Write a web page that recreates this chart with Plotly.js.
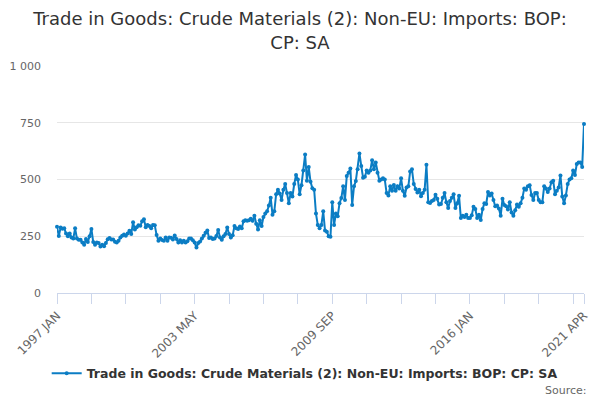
<!DOCTYPE html>
<html>
<head>
<meta charset="utf-8">
<script src="https://cdn.plot.ly/plotly-3.0.1.min.js"></script>
<style>
  html, body { margin: 0; padding: 0; background: #fff; }
  #plot { width: 600px; height: 400px; }
</style>
</head>
<body>
<div id="plot"></div>
<script>
// Monthly values, 1997 JAN .. 2021 APR (GBP million)
var startYear = 1997;
var monthNames = ["JAN", "FEB", "MAR", "APR", "MAY", "JUN", "JUL", "AUG", "SEP", "OCT", "NOV", "DEC"];

var imports = [
  292, 251, 288, 283, 285, 262, 250, 262, 245, 240,
  285, 240, 235, 235, 222, 213, 238, 225, 250, 282,
  225, 213, 222, 220, 205, 213, 206, 220, 237, 242,
  236, 236, 226, 222, 230, 245, 252, 258, 252, 262,
  274, 260, 312, 280, 290, 298, 296, 316, 325, 290,
  300, 295, 285, 300, 298, 255, 230, 240, 234, 230,
  244, 230, 245, 243, 236, 253, 238, 222, 232, 222,
  230, 222, 228, 240, 240, 232, 222, 200, 220, 227,
  240, 252, 265, 275, 242, 245, 238, 240, 251, 278,
  245, 235, 250, 260, 289, 260, 244, 254, 295, 285,
  282, 293, 285, 316, 320, 318, 320, 327, 318, 340,
  305, 280, 320, 295, 335, 350, 360, 385, 420, 345,
  360, 435, 455, 438, 410, 455, 480, 440, 395, 440,
  425, 480, 520, 500, 435, 475, 540, 610, 495, 555,
  490, 462, 455, 350, 300, 285, 300, 360, 275, 270,
  250, 248, 400, 300, 350, 338, 395, 418, 470, 410,
  515, 530, 548, 388, 470, 493, 545, 615, 560, 508,
  512, 540, 530, 540, 585, 545, 575, 530, 495, 500,
  505, 500, 440, 430, 470, 450, 476, 450, 470, 460,
  505, 450, 428, 465, 470, 535, 545, 480, 458, 443,
  455, 426, 440, 455, 565, 400, 397, 405, 410, 433,
  415, 390, 392, 420, 440, 400, 375, 405, 420, 435,
  375, 395, 428, 330, 340, 335, 345, 330, 330, 342,
  380, 370, 330, 345, 322, 370, 395, 392, 445, 430,
  438, 410, 382, 385, 372, 340, 415, 388, 382, 368,
  400, 355, 340, 365, 390, 380, 395, 420, 460, 455,
  470, 475, 432, 410, 440, 440, 410, 400, 400, 470,
  460, 445, 460, 488, 495, 435, 450, 465, 518, 425,
  395, 430, 480, 500, 505, 540, 520, 568, 575, 575,
  555, 745
];

// labelled months and the tick spacing of the category axis
var tickLabels = ["1997 JAN", "2003 MAY", "2009 SEP", "2016 JAN", "2021 APR"];
var minorStep = 19;
var yTicks = [0, 250, 500, 750, 1000];
var yTickText = ["0", "250", "500", "750", "1 000"];

var months = imports.map(function (v, i) {
  return (startYear + Math.floor(i / 12)) + " " + monthNames[i % 12];
});
var idx = imports.map(function (v, i) { return i; });
var tickIdx = tickLabels.map(function (l) { return months.indexOf(l); });
var minorIdx = [];
for (var k = 0; k < months.length; k += minorStep) minorIdx.push(k);

var trace = {
  x: idx,
  y: imports,
  text: months,
  name: "Trade in Goods: Crude Materials (2): Non-EU: Imports: BOP: CP: SA",
  type: "scatter",
  mode: "lines+markers",
  line: { color: "#0b7dc4", width: 2 },
  marker: { color: "#0b7dc4", size: 4 },
  cliponaxis: false,
  hovertemplate: "%{text}: %{y}<extra></extra>"
};

var layout = {
  width: 600,
  height: 400,
  paper_bgcolor: "#fff",
  plot_bgcolor: "#fff",
  font: { family: "DejaVu Sans, sans-serif", color: "#666", size: 11 },
  margin: { l: 57, r: 16, t: 66, b: 107 },
  title: {
    text: "Trade in Goods: Crude Materials (2): Non-EU: Imports: BOP:<br>CP: SA",
    font: { family: "DejaVu Sans, sans-serif", size: 18, color: "#333" },
    x: 0.5,
    xanchor: "center",
    yref: "container",
    y: 0.937,
    yanchor: "top"
  },
  xaxis: {
    range: [0, months.length - 1],
    tickvals: tickIdx,
    ticktext: tickLabels,
    tickangle: -45,
    ticks: "outside",
    ticklen: 10,
    tickcolor: "#ccd6eb",
    showline: true,
    linecolor: "#ccd6eb",
    showgrid: false,
    zeroline: false,
    tickfont: { size: 12, color: "#666" },
    minor: {
      tickmode: "array",
      tickvals: minorIdx,
      ticks: "outside",
      ticklen: 10,
      tickcolor: "#ccd6eb",
      showgrid: false
    }
  },
  yaxis: {
    range: [0, 1000],
    tickvals: yTicks,
    ticktext: yTickText,
    showgrid: true,
    gridcolor: "#e6e6e6",
    zeroline: false,
    showline: false,
    ticks: "",
    ticklabelstandoff: 15,
    tickfont: { size: 11, color: "#666" }
  },
  showlegend: true,
  legend: {
    orientation: "h",
    x: 0.47,
    xanchor: "center",
    y: -0.355,
    yanchor: "middle",
    font: { size: 12.5, color: "#333", weight: "bold" },
    itemwidth: 30
  },
  annotations: [{
    text: "Source:",
    xref: "paper",
    yref: "paper",
    x: 1.01,
    xanchor: "right",
    y: -0.43,
    yanchor: "middle",
    showarrow: false,
    font: { size: 11, color: "#666" }
  }]
};

Plotly.newPlot("plot", [trace], layout, { displayModeBar: false, staticPlot: true });
</script>
</body>
</html>
